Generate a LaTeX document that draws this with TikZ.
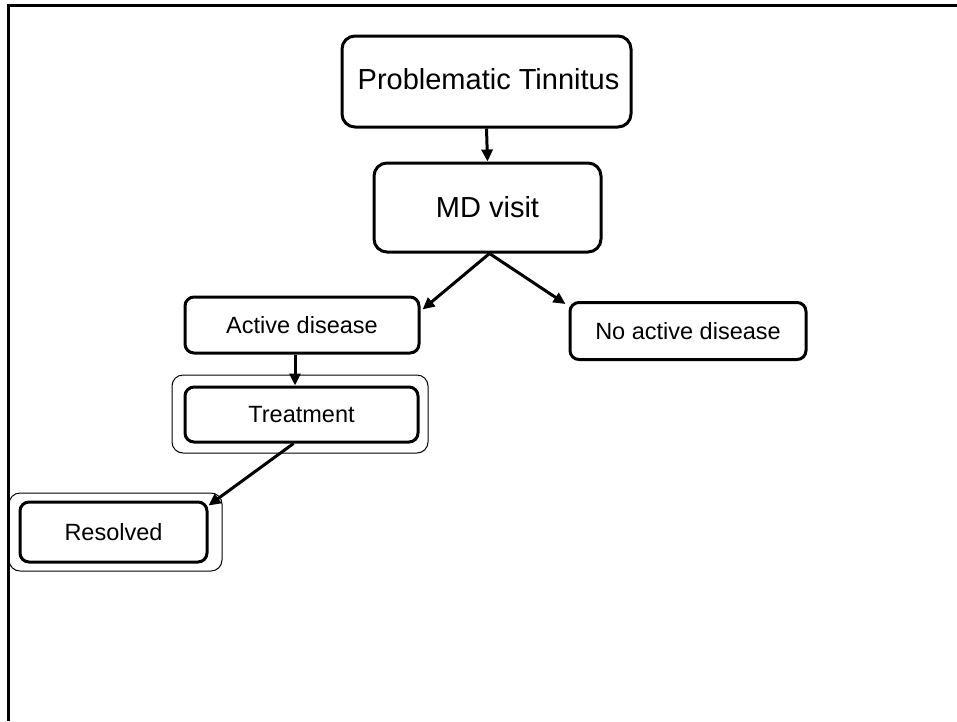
\documentclass[tikz,border=0pt]{standalone}
\usepackage{fontspec}
\setmainfont{Liberation Sans}
\usetikzlibrary{arrows.meta,positioning}

\tikzset{
  box/.style={draw, line width=3pt, rounded corners=13pt, align=center, inner sep=0pt},
  bigbox/.style={box, font=\fontsize{29}{34}\selectfont},
  smallbox/.style={box, rounded corners=9pt, font=\fontsize{23.5}{28}\selectfont},
  halo/.style={draw, line width=1pt, rounded corners=11pt, inner sep=0pt},
  arr/.style={line width=3pt, -{Triangle[length=12pt,width=11pt]}},
  frameline/.style={line width=3pt}
}

\begin{document}
\begin{tikzpicture}[x=1pt,y=-1pt]
  \useasboundingbox (0,0) rectangle (957,721);

  % page frame
  \draw[frameline] (957,5.5) -- (8,5.5) -- (8,721);

  % main boxes
  \node[bigbox, minimum width=289pt, minimum height=91pt] (pt) at (486.5,81.5)
    {\hspace*{4pt}\raisebox{5pt}{Problematic Tinnitus}};
  \node[bigbox, minimum width=227pt, minimum height=89pt] (md) at (487.5,207.5) {MD visit};
  \node[smallbox, minimum width=234pt, minimum height=56pt] (ad) at (302,325) {Active disease};
  \node[smallbox, minimum width=236pt, minimum height=57pt] (nad) at (688,331) {No active disease};

  % outcome boxes with thin outer outline
  \node[halo, minimum width=256pt, minimum height=78pt] (trh) at (300,414) {};
  \node[smallbox, minimum width=233pt, minimum height=55pt] (tr) at (301.5,414.5) {Treatment};
  \node[halo, minimum width=213pt, minimum height=78pt] (resh) at (115.5,532) {};
  \node[smallbox, minimum width=187pt, minimum height=60pt] (res) at (113.5,532) {Resolved};

  % connectors
  \draw[arr] (pt.south) -- (md.north);
  \draw[arr] ([xshift=2pt]md.south) -- ([xshift=2pt,yshift=-14pt]ad.north east);
  \draw[arr] ([xshift=2pt]md.south) -- ([xshift=-3pt,yshift=-3pt]nad.north west);
  \draw[arr] ([xshift=-7pt]ad.south) -- ([xshift=-6.5pt]tr.north);
  \draw[arr] ([xshift=-8pt]tr.south) -- ([yshift=-5pt]res.north east);
\end{tikzpicture}
\end{document}
